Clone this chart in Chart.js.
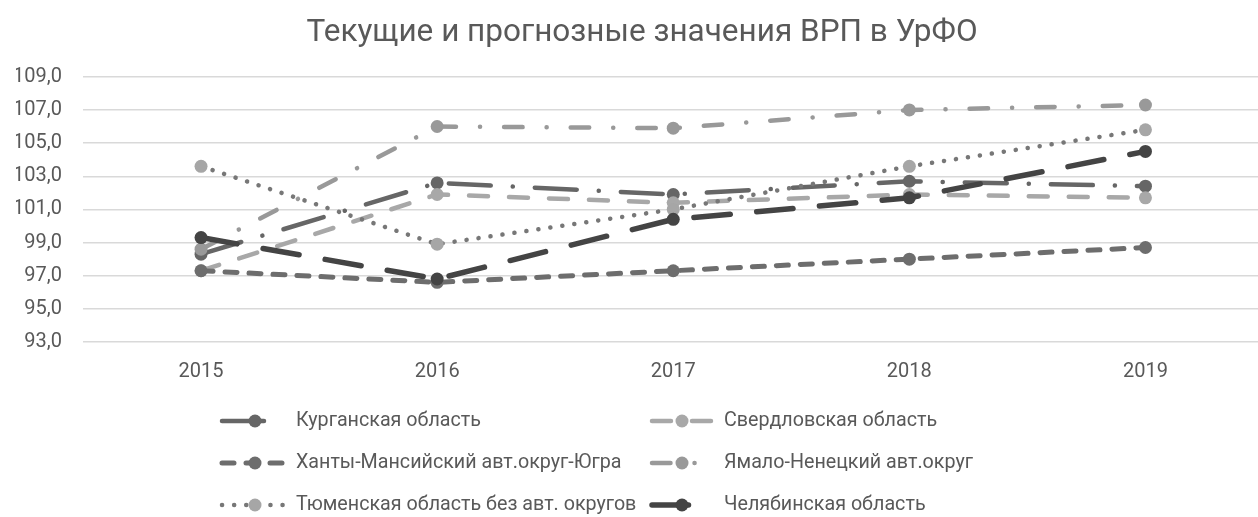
<!DOCTYPE html>
<html>
<head>
<meta charset="utf-8">
<script src="https://cdn.jsdelivr.net/npm/chart.js@4"></script>
<style>
  html, body { margin: 0; padding: 0; background: #fff; overflow: hidden; }
</style>
</head>
<body>
<canvas class="js-chart" width="1270" height="517"></canvas>
<script>
const years = ['2015', '2016', '2017', '2018', '2019'];
const seriesNames = [
    'Курганская область',
    'Свердловская область',
    'Ханты-Мансийский авт.округ-Югра',
    'Ямало-Ненецкий авт.округ',
    'Тюменская область без авт. округов',
    'Челябинская область'
];
const kurgan = [98.3, 102.6, 101.9, 102.7, 102.4];
const sverdlovsk = [97.3, 101.9, 101.4, 101.9, 101.7];
const khanty = [97.3, 96.6, 97.3, 98.0, 98.7];
const yamal = [98.6, 106.0, 105.9, 107.0, 107.3];
const tyumen = [103.6, 98.9, 101.0, 103.6, 105.8];
const chelyabinsk = [99.3, 96.8, 100.4, 101.7, 104.5];
const yTicks = { min: 93, max: 109, step: 2 };

const FONT = 'Roboto';
const TEXT_COLOR = '#595959';

// line look per series: colour, marker colour, width, dash
const styles = [
    { color: '#666666', marker: '#666666', width: 4.5, dash: [42, 22, 0.1, 22] },
    { color: '#a8a8a8', marker: '#a8a8a8', width: 4.5, dash: [19, 21] },
    { color: '#6d6d6d', marker: '#6d6d6d', width: 5, dash: [12, 12] },
    { color: '#999999', marker: '#999999', width: 4.5, dash: [18.5, 24, 0.1, 24] },
    { color: '#777777', marker: '#a6a6a6', width: 4.5, dash: [0.1, 12] },
    { color: '#444444', marker: '#444444', width: 5.5, dash: [36.5, 26.5] }
];
const seriesValues = [kurgan, sverdlovsk, khanty, yamal, tyumen, chelyabinsk];

const datasets = seriesNames.map((name, i) => ({
    label: name,
    data: seriesValues[i],
    borderColor: styles[i].color,
    borderWidth: styles[i].width,
    borderDash: styles[i].dash,
    borderCapStyle: 'round',
    pointStyle: 'circle',
    pointRadius: 6.5,
    pointBorderWidth: 0,
    pointBackgroundColor: styles[i].marker,
    tension: 0,
    order: seriesNames.length - i // later series on top, like excel
}));

// two-column legend under the chart, drawn by hand
const legendTwoCols = {
    id: 'legendTwoCols',
    afterDraw(chart) {
        const c = chart.ctx;
        const rows = [421, 463, 505];
        const sampleX = [222, 652];
        const markerX = [255, 682];
        const textX = [296, 724];
        chart.data.datasets.forEach((ds, i) => {
            const col = i % 2;
            const y = rows[Math.floor(i / 2)];
            c.save();
            c.strokeStyle = ds.borderColor;
            c.lineWidth = ds.borderWidth;
            c.lineCap = 'round';
            c.setLineDash(ds.borderDash);
            c.beginPath();
            c.moveTo(sampleX[col], y);
            c.lineTo(sampleX[col] + 62, y);
            c.stroke();
            c.setLineDash([]);
            c.fillStyle = ds.pointBackgroundColor;
            c.beginPath();
            c.arc(markerX[col], y, 6.5, 0, Math.PI * 2);
            c.fill();
            c.fillStyle = TEXT_COLOR;
            c.font = '19.7px ' + FONT;
            c.textAlign = 'left';
            c.textBaseline = 'middle';
            c.fillText(ds.label, textX[col], y);
            c.restore();
        });
    }
};

const ctx = document.querySelector('.js-chart').getContext('2d');
new Chart(ctx, {
    type: 'line',
    data: { labels: years, datasets: datasets },
    options: {
        responsive: false,
        animation: false,
        devicePixelRatio: 1,
        layout: { padding: { left: 16, right: 2, top: 0, bottom: 115 } },
        plugins: {
            legend: { display: false },
            tooltip: { enabled: false },
            title: {
                display: true,
                text: 'Текущие и прогнозные значения ВРП в УрФО',
                color: TEXT_COLOR,
                font: { family: FONT, size: 31.5, weight: 'normal' },
                padding: { top: 14, bottom: 25 }
            }
        },
        scales: {
            x: {
                offset: true,
                grid: { display: false, drawTicks: false },
                border: { display: false },
                ticks: { color: TEXT_COLOR, font: { family: FONT, size: 20 }, padding: 18 }
            },
            y: {
                min: yTicks.min,
                max: yTicks.max,
                afterFit(scale) { scale.width = 67; },
                grid: { color: '#d9d9d9', lineWidth: 1.5, drawTicks: false },
                border: { display: false },
                ticks: {
                    stepSize: yTicks.step,
                    color: TEXT_COLOR,
                    font: { family: FONT, size: 20 },
                    padding: 21,
                    callback(value) {
                        return value.toFixed(1).replace('.', ',');
                    }
                }
            }
        }
    },
    plugins: [legendTwoCols]
});
</script>
</body>
</html>
